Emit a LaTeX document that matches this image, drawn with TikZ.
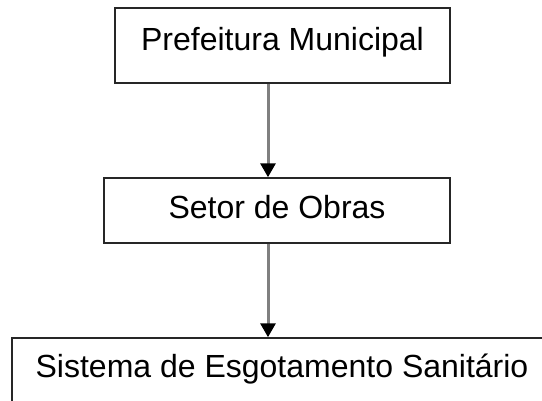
\documentclass[tikz,border=0pt]{standalone}
\usepackage{fontspec}
\setmainfont{Liberation Sans}
\usetikzlibrary{arrows.meta, positioning}
\tikzset{
    orgbox/.style={draw=black!85, line width=1.5pt, fill=white, inner sep=0pt,
        font=\fontsize{32}{38}\selectfont, text height=23pt},
    orglink/.style={draw=black!50, line width=3pt,
        -{Triangle[length=14pt, width=15pt, black]}},
}
\begin{document}
\begin{tikzpicture}[x=1pt, y=-1pt]
    \useasboundingbox (0, 0) rectangle (542, 400);
    \clip (0, 0) rectangle (542, 400);
    \node[orgbox, minimum width=335pt, minimum height=75pt, text depth=14pt]
        (pref) at (282.5, 45.5) {Prefeitura Municipal};
    \node[orgbox, minimum width=346pt, minimum height=65pt, text depth=8pt]
        (obras) at (277, 210.5) {Setor de Obras};
    \node[orgbox, minimum width=540pt, minimum height=78pt, text depth=23pt]
        (esgoto) at (282, 377) {Sistema de Esgotamento Sanitário};
    \coordinate (link) at (268, 0);
    \draw[orglink] (pref.south -| link) -- (obras.north -| link);
    \draw[orglink] (obras.south -| link) -- (esgoto.north -| link);
\end{tikzpicture}
\end{document}
